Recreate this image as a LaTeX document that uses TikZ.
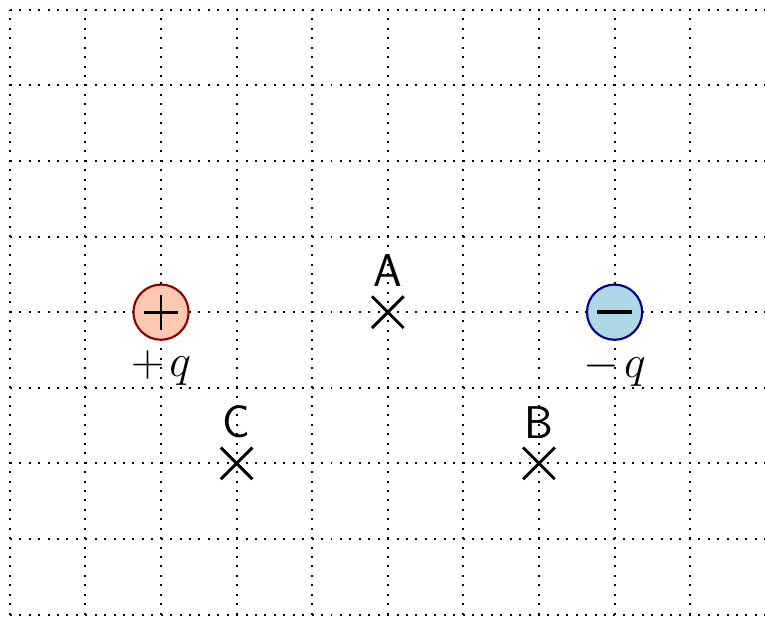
\documentclass[tikz,border=0pt]{standalone}
\usepackage{amssymb,amsmath}
\usepackage{tikz}
\usetikzlibrary{shapes.misc}
\usetikzlibrary{positioning}

\definecolor{posfill}{RGB}{251,200,178}
\definecolor{posedge}{RGB}{140,0,0}
\definecolor{negfill}{RGB}{173,216,230}
\definecolor{negedge}{RGB}{0,0,140}

\tikzset{
  griddots/.style={line width=0.75pt, dash pattern=on 0.75pt off 2.8pt},
  charge/.style={circle, draw, line width=0.8pt, minimum size=0.73cm, inner sep=0pt},
  signbar/.style={line width=1.1pt},
  pointmark/.style={cross out, draw, line width=1.1pt, minimum size=0.38cm, inner sep=0pt},
  ptlabel/.style={font=\LARGE\sffamily},
  qlabel/.style={font=\LARGE}
}

\begin{document}
\begin{tikzpicture}
        \useasboundingbox (-0.13,-0.02) rectangle (9.99,8.13);
        \foreach \i in {0,...,10} { \draw [griddots] (\i,0) -- (\i,8); }
        \foreach \i in {0,...,8} { \draw [griddots] (0,\i) -- (10,\i); }
        \node [charge, fill=posfill, draw=posedge] (qplus) at (2,4) {};
        \node [charge, fill=negfill, draw=negedge] (qminus) at (8,4) {};
        \draw [signbar] ([xshift=-0.23cm]qplus.center) -- ([xshift=0.23cm]qplus.center);
        \draw [signbar] ([yshift=-0.23cm]qplus.center) -- ([yshift=0.23cm]qplus.center);
        \draw [signbar, line width=1.4pt] ([xshift=-0.23cm]qminus.center) -- ([xshift=0.23cm]qminus.center);
    \node [qlabel, below=0pt of qplus] (lplus) {$+\mkern2mu q$};
    \node [qlabel, below=0pt of qminus] (lminus) {$-\mkern2mu q$};
        \node [pointmark] (pA) at (5,4) {};
        \node [pointmark] (pB) at (7,2) {};
        \node [pointmark] (pC) at (3,2) {};
    \node [ptlabel, above=0pt of pA] (lA) {A};
    \node [ptlabel, above=0pt of pB] (lB) {B};
    \node [ptlabel, above=0pt of pC] (lC) {C};
  \end{tikzpicture}
\end{document}
